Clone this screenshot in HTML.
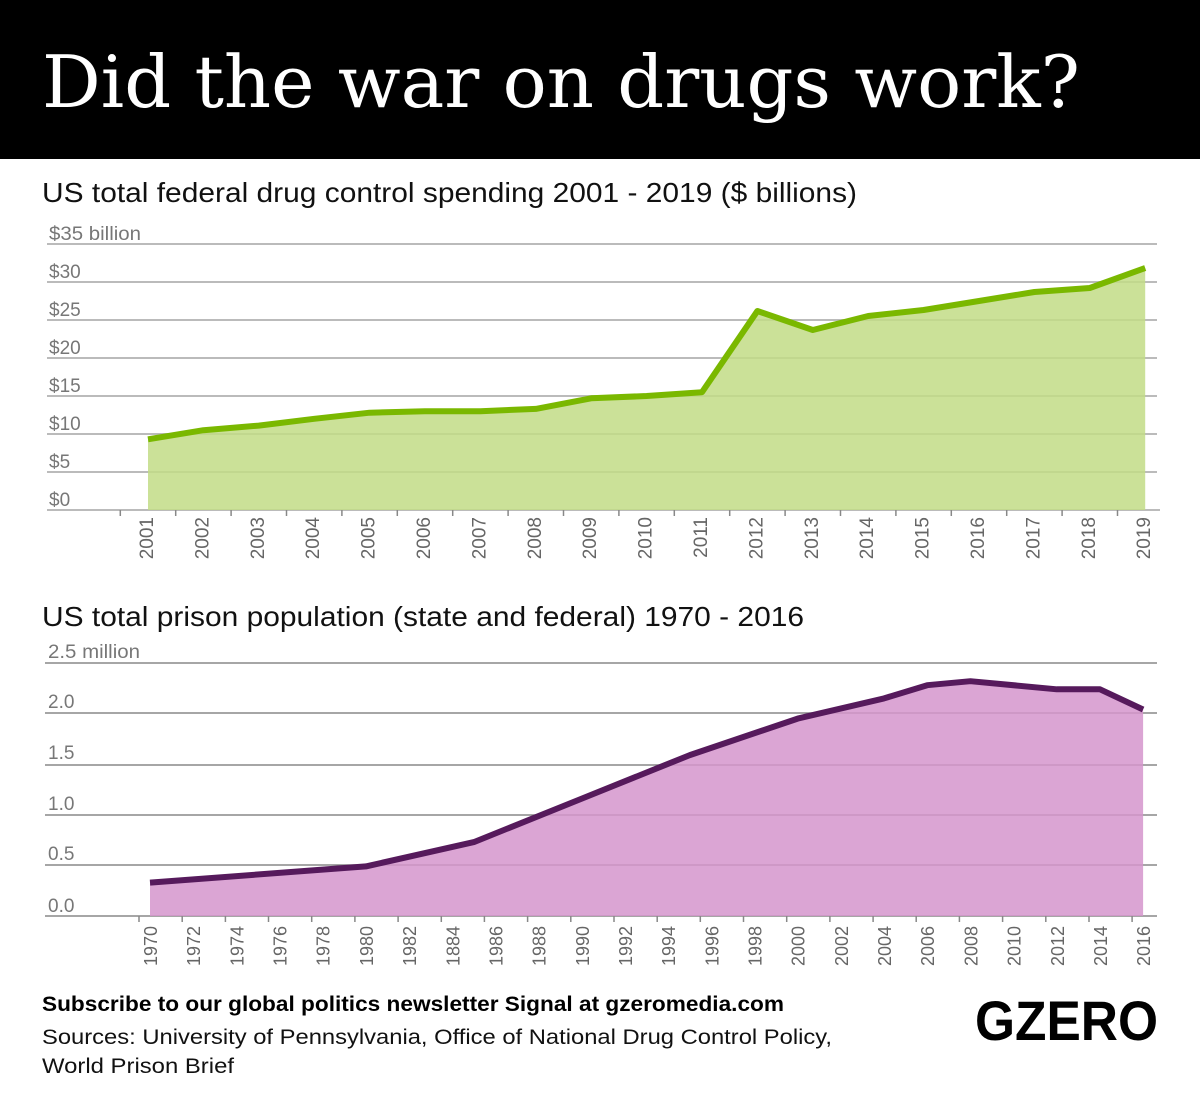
<!DOCTYPE html>
<html><head><meta charset="utf-8"><style>
body{margin:0;background:#fff}
svg{display:block}
</style></head><body>
<svg width="1200" height="1110" viewBox="0 0 1200 1110" xmlns="http://www.w3.org/2000/svg" font-family="Liberation Sans, sans-serif">
<rect x="0" y="0" width="1200" height="159" fill="#000"/>
<text x="42" y="107" style="font-family:'DejaVu Serif','Liberation Serif',serif" font-size="72" fill="#fff" textLength="1038" lengthAdjust="spacingAndGlyphs">Did the war on drugs work?</text>
<text x="42" y="202" font-size="28" fill="#111" textLength="815" lengthAdjust="spacingAndGlyphs">US total federal drug control spending 2001 - 2019 ($ billions)</text>

<!-- chart 1 -->
<g stroke="#bbb" stroke-width="2">
<line x1="47" y1="244" x2="1157" y2="244"/><line x1="47" y1="282" x2="1157" y2="282"/>
<line x1="47" y1="320" x2="1157" y2="320"/><line x1="47" y1="358" x2="1157" y2="358"/>
<line x1="47" y1="396" x2="1157" y2="396"/><line x1="47" y1="434" x2="1157" y2="434"/>
<line x1="47" y1="472" x2="1157" y2="472"/><line x1="47" y1="510" x2="1160" y2="510"/>
</g>
<polygon fill="#c2dc86" fill-opacity="0.85" points="148,510 148,439.3 203.4,430.2 258.8,425.6 314.2,418.8 369.6,412.7 425,411.2 480.4,411.2 535.8,408.9 591.2,398.3 646.6,396 702,392.2 757.4,311 812.8,330 868.2,316 923.6,310 979,301 1034.4,292 1089.8,288 1145.2,268 1145.2,510"/>
<polyline fill="none" stroke="#7ab800" stroke-width="6" stroke-linejoin="round" points="148,439.3 203.4,430.2 258.8,425.6 314.2,418.8 369.6,412.7 425,411.2 480.4,411.2 535.8,408.9 591.2,398.3 646.6,396 702,392.2 757.4,311 812.8,330 868.2,316 923.6,310 979,301 1034.4,292 1089.8,288 1145.2,268"/>
<g font-size="19" fill="#777">
<text x="49" y="240" textLength="92" lengthAdjust="spacingAndGlyphs">$35 billion</text><text x="49" y="278">$30</text><text x="49" y="316">$25</text>
<text x="49" y="354">$20</text><text x="49" y="392">$15</text><text x="49" y="430">$10</text>
<text x="49" y="468">$5</text><text x="49" y="506">$0</text>
</g>
<g stroke="#888" stroke-width="1.5">
<line x1="120.3" y1="510" x2="120.3" y2="516"/><line x1="175.7" y1="510" x2="175.7" y2="516"/><line x1="231.1" y1="510" x2="231.1" y2="516"/><line x1="286.5" y1="510" x2="286.5" y2="516"/><line x1="341.9" y1="510" x2="341.9" y2="516"/><line x1="397.3" y1="510" x2="397.3" y2="516"/><line x1="452.7" y1="510" x2="452.7" y2="516"/><line x1="508.1" y1="510" x2="508.1" y2="516"/><line x1="563.5" y1="510" x2="563.5" y2="516"/><line x1="618.9" y1="510" x2="618.9" y2="516"/><line x1="674.3" y1="510" x2="674.3" y2="516"/><line x1="729.7" y1="510" x2="729.7" y2="516"/><line x1="785.1" y1="510" x2="785.1" y2="516"/><line x1="840.5" y1="510" x2="840.5" y2="516"/><line x1="895.9" y1="510" x2="895.9" y2="516"/><line x1="951.3" y1="510" x2="951.3" y2="516"/><line x1="1006.7" y1="510" x2="1006.7" y2="516"/><line x1="1062.1" y1="510" x2="1062.1" y2="516"/><line x1="1117.5" y1="510" x2="1117.5" y2="516"/>
</g>
<g font-size="19" fill="#666" text-anchor="end">
<text transform="translate(153,517) rotate(-90)">2001</text><text transform="translate(208.4,517) rotate(-90)">2002</text><text transform="translate(263.8,517) rotate(-90)">2003</text><text transform="translate(319.2,517) rotate(-90)">2004</text><text transform="translate(374.6,517) rotate(-90)">2005</text><text transform="translate(430,517) rotate(-90)">2006</text><text transform="translate(485.4,517) rotate(-90)">2007</text><text transform="translate(540.8,517) rotate(-90)">2008</text><text transform="translate(596.2,517) rotate(-90)">2009</text><text transform="translate(651.6,517) rotate(-90)">2010</text><text transform="translate(707,517) rotate(-90)">2011</text><text transform="translate(762.4,517) rotate(-90)">2012</text><text transform="translate(817.8,517) rotate(-90)">2013</text><text transform="translate(873.2,517) rotate(-90)">2014</text><text transform="translate(928.6,517) rotate(-90)">2015</text><text transform="translate(984,517) rotate(-90)">2016</text><text transform="translate(1039.4,517) rotate(-90)">2017</text><text transform="translate(1094.8,517) rotate(-90)">2018</text><text transform="translate(1150.2,517) rotate(-90)">2019</text>
</g>

<text x="42" y="626" font-size="28" fill="#111" textLength="762" lengthAdjust="spacingAndGlyphs">US total prison population (state and federal) 1970 - 2016</text>

<!-- chart 2 -->
<g stroke="#888" stroke-width="1.5">
<line x1="45" y1="663" x2="1157" y2="663"/><line x1="45" y1="713" x2="1157" y2="713"/>
<line x1="45" y1="765" x2="1157" y2="765"/><line x1="45" y1="815" x2="1157" y2="815"/>
<line x1="45" y1="865" x2="1157" y2="865"/><line x1="45" y1="916" x2="1157" y2="916"/>
</g>
<polygon fill="#d595cc" fill-opacity="0.85" points="150,916 150,882.6 365.9,866.4 473.9,842.1 581.8,798.6 689.8,755.1 797.7,718.6 884,698.4 927.2,685.2 970.4,681.2 1056.8,689.3 1100,689.3 1143.1,709.5 1143.1,916"/>
<polyline fill="none" stroke="#561a5c" stroke-width="6" stroke-linejoin="round" points="150,882.6 365.9,866.4 473.9,842.1 581.8,798.6 689.8,755.1 797.7,718.6 884,698.4 927.2,685.2 970.4,681.2 1056.8,689.3 1100,689.3 1143.1,709.5"/>
<g font-size="19" fill="#777">
<text x="48" y="658" textLength="92" lengthAdjust="spacingAndGlyphs">2.5 million</text><text x="48" y="708">2.0</text><text x="48" y="759">1.5</text>
<text x="48" y="810">1.0</text><text x="48" y="860">0.5</text><text x="48" y="912">0.0</text>
</g>
<g stroke="#888" stroke-width="1.5">
<line x1="139" y1="916" x2="139" y2="922"/><line x1="182.2" y1="916" x2="182.2" y2="922"/><line x1="225.4" y1="916" x2="225.4" y2="922"/><line x1="268.5" y1="916" x2="268.5" y2="922"/><line x1="311.7" y1="916" x2="311.7" y2="922"/><line x1="354.9" y1="916" x2="354.9" y2="922"/><line x1="398.1" y1="916" x2="398.1" y2="922"/><line x1="441.3" y1="916" x2="441.3" y2="922"/><line x1="484.4" y1="916" x2="484.4" y2="922"/><line x1="527.6" y1="916" x2="527.6" y2="922"/><line x1="570.8" y1="916" x2="570.8" y2="922"/><line x1="614" y1="916" x2="614" y2="922"/><line x1="657.2" y1="916" x2="657.2" y2="922"/><line x1="700.3" y1="916" x2="700.3" y2="922"/><line x1="743.5" y1="916" x2="743.5" y2="922"/><line x1="786.7" y1="916" x2="786.7" y2="922"/><line x1="829.9" y1="916" x2="829.9" y2="922"/><line x1="873.1" y1="916" x2="873.1" y2="922"/><line x1="916.2" y1="916" x2="916.2" y2="922"/><line x1="959.4" y1="916" x2="959.4" y2="922"/><line x1="1002.6" y1="916" x2="1002.6" y2="922"/><line x1="1045.8" y1="916" x2="1045.8" y2="922"/><line x1="1089" y1="916" x2="1089" y2="922"/><line x1="1132.1" y1="916" x2="1132.1" y2="922"/>
</g>
<g font-size="18" fill="#666" text-anchor="end">
<text transform="translate(157,926) rotate(-90)">1970</text><text transform="translate(200.2,926) rotate(-90)">1972</text><text transform="translate(243.4,926) rotate(-90)">1974</text><text transform="translate(286.5,926) rotate(-90)">1976</text><text transform="translate(329.7,926) rotate(-90)">1978</text><text transform="translate(372.9,926) rotate(-90)">1980</text><text transform="translate(416.1,926) rotate(-90)">1982</text><text transform="translate(459.3,926) rotate(-90)">1884</text><text transform="translate(502.4,926) rotate(-90)">1986</text><text transform="translate(545.6,926) rotate(-90)">1988</text><text transform="translate(588.8,926) rotate(-90)">1990</text><text transform="translate(632,926) rotate(-90)">1992</text><text transform="translate(675.2,926) rotate(-90)">1994</text><text transform="translate(718.3,926) rotate(-90)">1996</text><text transform="translate(761.5,926) rotate(-90)">1998</text><text transform="translate(804.7,926) rotate(-90)">2000</text><text transform="translate(847.9,926) rotate(-90)">2002</text><text transform="translate(891.1,926) rotate(-90)">2004</text><text transform="translate(934.2,926) rotate(-90)">2006</text><text transform="translate(977.4,926) rotate(-90)">2008</text><text transform="translate(1020.6,926) rotate(-90)">2010</text><text transform="translate(1063.8,926) rotate(-90)">2012</text><text transform="translate(1107,926) rotate(-90)">2014</text><text transform="translate(1150.1,926) rotate(-90)">2016</text>
</g>

<text x="42" y="1011" font-size="21" font-weight="bold" fill="#000" textLength="742" lengthAdjust="spacingAndGlyphs">Subscribe to our global politics newsletter Signal at gzeromedia.com</text>
<text x="42" y="1044" font-size="21" fill="#111" textLength="790" lengthAdjust="spacingAndGlyphs">Sources: University of Pennsylvania, Office of National Drug Control Policy,</text>
<text x="42" y="1073" font-size="21" fill="#111" textLength="192" lengthAdjust="spacingAndGlyphs">World Prison Brief</text>
<text x="975" y="1040" font-size="56" font-weight="bold" fill="#000" textLength="183" lengthAdjust="spacingAndGlyphs">GZERO</text>
</svg>
</body></html>
